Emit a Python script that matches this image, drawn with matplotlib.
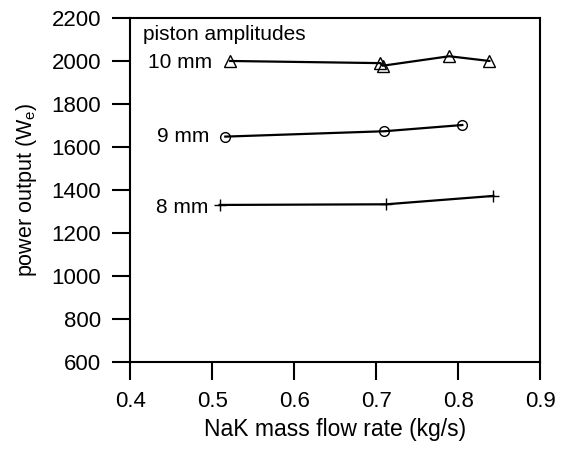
import numpy as np
import matplotlib
matplotlib.use('Agg')
import matplotlib.pyplot as plt

plt.rcParams['font.family'] = ['Liberation Sans', 'DejaVu Sans']

# NaK mass flow rate (kg/s) vs power output (We) for three piston amplitudes
flow_10mm = [0.522, 0.705, 0.708, 0.789, 0.838]
power_10mm = [2000, 1990, 1978, 2022, 2000]

flow_9mm = [0.516, 0.710, 0.805]
power_9mm = [1648, 1673, 1702]

flow_8mm = [0.509, 0.712, 0.843]
power_8mm = [1330, 1333, 1372]

fig = plt.figure(figsize=(5.61, 4.5), dpi=100)
ax = fig.add_axes([0.232, 0.196, 0.731, 0.764])

ax.plot(flow_10mm, power_10mm, color='black', lw=1.6, marker='^', ms=8,
        mfc='none', mec='black', mew=1.0)
ax.plot(flow_9mm, power_9mm, color='black', lw=1.6, marker='o', ms=7,
        mfc='none', mec='black', mew=1.0)
ax.plot(flow_8mm, power_8mm, color='black', lw=1.6, marker='+', ms=9,
        mec='black', mew=1.0)

ax.set_xlim(0.4, 0.9)
ax.set_ylim(600, 2200)
ax.set_xticks(np.arange(0.4, 0.91, 0.1))
ax.set_yticks(np.arange(600, 2201, 200))
ax.set_xticklabels(['0.4', '0.5', '0.6', '0.7', '0.8', '0.9'])

ax.tick_params(direction='out', length=13, width=1.5, labelsize=16, pad=8)
for s in ax.spines.values():
    s.set_linewidth(1.5)

ax.set_xlabel('NaK mass flow rate (kg/s)', fontsize=16.5, labelpad=4)
ax.set_ylabel('power output (W$_\\mathregular{e}$)', fontsize=15.5, labelpad=9)

ax.text(0.4155, 2125, 'piston amplitudes', fontsize=15, va='center', ha='left')
ax.text(0.5, 1995, '10 mm', fontsize=15, va='center', ha='right')
ax.text(0.4965, 1648, '9 mm', fontsize=15, va='center', ha='right')
ax.text(0.4955, 1318, '8 mm', fontsize=15, va='center', ha='right')

fig.savefig('out.png', dpi=100)
